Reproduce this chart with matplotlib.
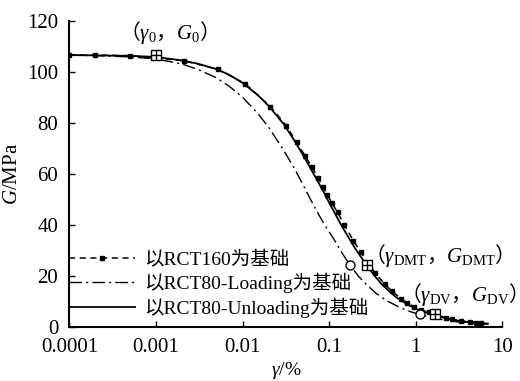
import matplotlib.pyplot as plt
import numpy as np

plt.rcParams['font.family'] = ['Liberation Serif', 'Noto Sans CJK SC']
plt.rcParams['mathtext.fontset'] = 'custom'
plt.rcParams['mathtext.rm'] = 'Liberation Serif'
plt.rcParams['mathtext.it'] = 'Liberation Serif:italic'
plt.rcParams['mathtext.sf'] = 'Liberation Serif'

# RCT160-based curve (dashed with small markers)
rct160_strain = [0.0001, 0.0002, 0.0005, 0.0021, 0.0052, 0.0107, 0.021, 0.032, 0.042, 0.053,
                 0.063, 0.075, 0.085, 0.095, 0.107, 0.125, 0.15, 0.19, 0.23, 0.28,
                 0.34, 0.44, 0.53, 0.68, 0.8, 0.95, 1.15, 1.4, 1.75, 2.2,
                 2.6, 3.3, 4.2, 5.0, 5.6]
rct160_G = [106.5, 106.5, 106.3, 104.3, 100.9, 95.3, 86.3, 78.8, 72.3, 66.9,
            62.6, 58.3, 54.8, 51.8, 48.6, 44.8, 39.8, 33.8, 29.3, 25.0,
            21.0, 16.6, 13.9, 10.9, 9.3, 7.9, 6.6, 5.6, 4.6, 3.6,
            3.0, 2.3, 1.8, 1.6, 1.4]

# RCT80-Loading-based curve (dash-dot)
load_strain = [0.0001, 0.0002, 0.0005, 0.001, 0.002, 0.003, 0.005, 0.007, 0.01, 0.015,
               0.02, 0.03, 0.04, 0.05, 0.06, 0.075, 0.09, 0.112, 0.14, 0.174,
               0.22, 0.27, 0.35, 0.46, 0.6, 0.75, 0.9, 1.12, 1.5, 2.0,
               2.5, 3.2, 4.2, 5.5, 6.8]
load_G = [106.5, 106.3, 105.8, 105.0, 103.0, 101.0, 97.6, 94.3, 90.0, 83.6,
          78.2, 69.0, 61.8, 55.6, 50.3, 44.2, 39.5, 34.6, 29.0, 24.1,
          19.6, 16.5, 13.0, 10.2, 8.2, 6.7, 5.7, 4.8, 3.6, 2.8,
          2.3, 1.8, 1.4, 1.1, 1.0]

# RCT80-Unloading-based curve (solid)
unload_strain = [0.0001, 0.0002, 0.0005, 0.001, 0.002, 0.003, 0.005, 0.007, 0.01, 0.015,
                 0.02, 0.03, 0.04, 0.05, 0.06, 0.07, 0.085, 0.1, 0.12, 0.14,
                 0.17, 0.2, 0.27, 0.33, 0.4, 0.5, 0.6, 0.8, 1.0, 1.3,
                 1.66, 2.0, 2.5, 3.2, 4.0, 5.0, 6.8]
unload_G = [106.5, 106.4, 106.2, 105.8, 104.4, 103.2, 101.0, 98.8, 95.6, 90.8,
            86.6, 79.3, 72.8, 67.2, 62.5, 58.4, 53.2, 48.6, 43.6, 39.4,
            34.6, 30.6, 24.1, 20.2, 16.8, 13.7, 11.4, 8.7, 7.0, 5.7,
            4.6, 3.7, 2.9, 2.2, 1.8, 1.5, 1.2]

# characteristic points
sq_strain = [0.001, 0.272, 1.66]
sq_G = [106.6, 24.1, 4.8]
circ_strain = [0.174, 1.12]
circ_G = [24.1, 4.8]

labels = ['以RCT160为基础', '以RCT80-Loading为基础', '以RCT80-Unloading为基础']

fig = plt.figure(figsize=(5.2, 3.81), dpi=100)
ax = fig.add_axes([0.1333, 0.1425, 0.833, 0.8032])

ax.plot(rct160_strain, rct160_G, color='black', linestyle=(0, (4, 3)), linewidth=1.1,
        marker='s', markersize=2.2, label=labels[0])
ax.plot(load_strain, load_G, color='black', linestyle=(0, (9, 3, 1.5, 3)), linewidth=1.0,
        label=labels[1])
ax.plot(unload_strain, unload_G, color='black', linestyle='-', linewidth=1.3,
        label=labels[2])

ax.plot(sq_strain, sq_G, linestyle='none', marker='s', markersize=6.5,
        markerfacecolor='white', markeredgecolor='black', markeredgewidth=1.0)
ax.plot(sq_strain, sq_G, linestyle='none', marker='+', markersize=6.5,
        color='black', markeredgewidth=1.0)
ax.plot(circ_strain, circ_G, linestyle='none', marker='o', markersize=6.5,
        markerfacecolor='white', markeredgecolor='black', markeredgewidth=1.0)

# non-math parts of these strings use the text's own font, so give them the CJK family
cjk = 'Noto Sans CJK SC'
ax.text(0.000375, 115.2, r'（$\gamma_\mathsf{0}$，$G_\mathsf{0}$）', fontsize=15,
        family=cjk, ha='left', va='center')
ax.text(0.25, 28.1, r'（$\gamma_\mathsf{DMT}$，$G_\mathsf{DMT}$）', fontsize=15,
        family=cjk, ha='left', va='center')
ax.text(0.66, 12.5, r'（$\gamma_\mathsf{DV}$，$G_\mathsf{DV}$）', fontsize=15,
        family=cjk, ha='left', va='center')

ax.set_xscale('log')
ax.set_xlim(0.0001, 10)
ax.set_ylim(0, 120)
ax.set_xticks([0.0001, 0.001, 0.01, 0.1, 1, 10])
ax.set_xticklabels(['0.0001', '0.001', '0.01', '0.1', '1', '10'])
ax.set_yticks([0, 20, 40, 60, 80, 100, 120])
ax.minorticks_off()
ax.tick_params(direction='in', length=4, width=1.0, labelsize=15, pad=8)

for side in ['top', 'right']:
    ax.spines[side].set_visible(False)
for side in ['left', 'bottom']:
    ax.spines[side].set_linewidth(1.5)

ax.set_xlabel(r'$\gamma$/%', fontsize=14, labelpad=2)
ax.set_ylabel(r'$G$/MPa', fontsize=15, labelpad=4)

ax.legend(loc='lower left', bbox_to_anchor=(0.0, 0.03), frameon=False, fontsize=14,
          handlelength=3.4, handletextpad=0.45, labelspacing=0.2, borderaxespad=0.0,
          borderpad=0.0, numpoints=1)

fig.savefig('out.png', dpi=100)
